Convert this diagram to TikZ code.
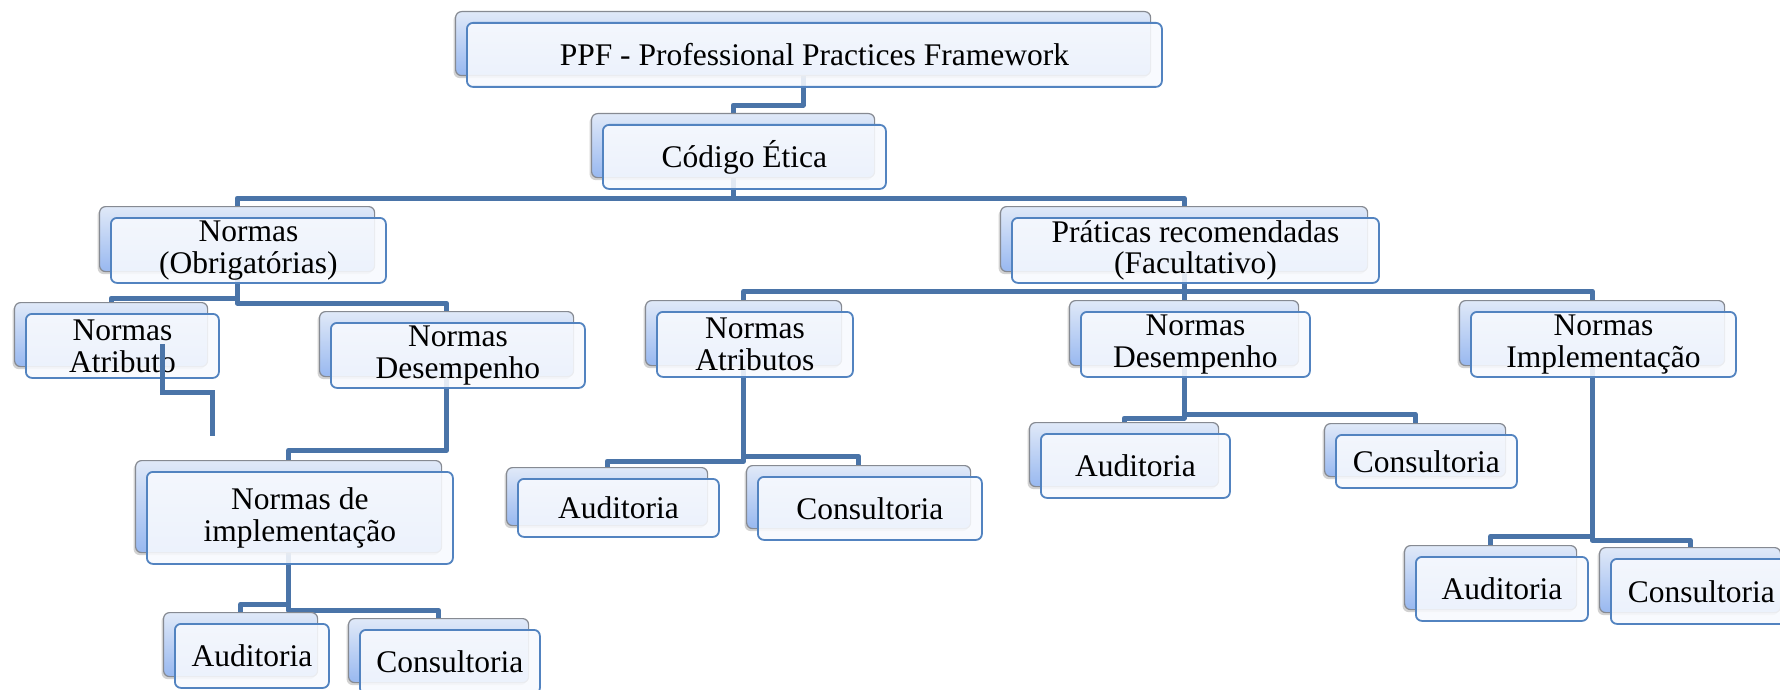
\documentclass[tikz,border=0pt]{standalone}
\usepackage{fontspec}
\setmainfont{Liberation Serif}
\usetikzlibrary{shadows}

\definecolor{linkblue}{HTML}{4A74A8}
\definecolor{frameblue}{HTML}{5283C0}
\definecolor{cardfill}{HTML}{F8FAFE}
\definecolor{backtop}{HTML}{E0E9F8}
\definecolor{backbot}{HTML}{98B8F0}
\definecolor{backedge}{HTML}{868A92}

\pgfdeclarelayer{paper}
\pgfdeclarelayer{links}
\pgfsetlayers{paper,links,main}

\tikzset{
  backcard/.style={draw=backedge, line width=1.2pt, rounded corners=6pt,
    top color=backtop, bottom color=backbot, inner sep=0pt, anchor=north west,
    drop shadow={shadow xshift=-2pt, shadow yshift=-2.5pt, opacity=0.35}},
  frontcard/.style={draw=frameblue, line width=1.8pt, rounded corners=6pt,
    fill=cardfill, fill opacity=0.88, text opacity=1, inner sep=0pt,
    anchor=north west, align=center, font=\fontsize{31.5}{32}\selectfont},
  link/.style={draw=linkblue, line width=5pt, line join=round}
}

% a card: shaded back plate plus a framed front plate carrying the text
% #1 name, #2 #3 top-left of the front plate, #4 width, #5 height, #6 text
\newcommand{\cardpair}[6]{%
  \node[backcard, minimum width=#4pt, minimum height=#5pt] (#1b) at (#2-11,#3-11) {};
  \node[frontcard, minimum width=#4pt, minimum height=#5pt] (#1) at (#2,#3) {#6};
}

\begin{document}
\begin{tikzpicture}[x=1pt,y=-1pt]
\useasboundingbox (0,0) rectangle (1780,690);
\begin{pgfonlayer}{paper}
  \fill[white] (0,0) rectangle (1780,690);
\end{pgfonlayer}

\cardpair{ppf}{466}{22}{695}{64}{PPF - Professional Practices Framework}
\cardpair{code}{602}{124}{283}{64}{Código Ética}
\cardpair{nob}{110}{217}{275}{65}{Normas\\(Obrigatórias)}
\cardpair{prat}{1011}{217}{367}{65}{Práticas recomendadas\\(Facultativo)}
\cardpair{natr}{25}{313}{193}{64}{Normas\\Atributo}
\cardpair{ndes}{330}{322}{254}{65}{Normas\\Desempenho}
\cardpair{nimpl}{146}{471}{306}{92}{Normas de\\implementação}
\cardpair{audA}{174}{623}{154}{64}{Auditoria}
\cardpair{conA}{359}{629}{180}{64}{Consultoria}
\cardpair{natrs}{656}{311}{196}{65}{Normas\\Atributos}
\cardpair{audB}{517}{478}{201}{58}{Auditoria}
\cardpair{conB}{757}{476}{224}{63}{Consultoria}
\cardpair{ndesr}{1080}{311}{229}{65}{Normas\\Desempenho}
\cardpair{audC}{1040}{433}{189}{64}{Auditoria}
\cardpair{conC}{1335}{434}{181}{53}{Consultoria}
\cardpair{nimpr}{1470}{311}{265}{65}{Normas\\Implementação}
\cardpair{audD}{1415}{556}{172}{64}{Auditoria}
\cardpair{conD}{1610}{558}{181}{65}{Consultoria}

\begin{pgfonlayer}{links}
  \draw[link] (ppfb.south) -- ++(0,29) -| (codeb.north);
  \draw[link] (codeb.south) -- ++(0,20) -| (nobb.north);
  \draw[link] (codeb.south) -- ++(0,20) -| (pratb.north);
  \draw[link] (nobb.south) -- ++(0,26) -| (natrb.north);
  \draw[link] (nobb.south) -- ++(0,31) -| (ndesb.north);
  \draw[link] (ndesb.south) -- ++(0,73) -| (nimplb.north);
  \draw[link] (nimplb.south) -- ++(0,51) -| (audAb.north);
  \draw[link] (nimplb.south) -- ++(0,57) -| (conAb.north);
  \draw[link] (pratb.south) -- ++(0,19) -| (natrsb.north);
  \draw[link] (pratb.south) -- (ndesrb.north);
  \draw[link] (pratb.south) -- ++(0,19) -| (nimprb.north);
  \draw[link] (natrsb.south) -- ++(0,95) -| (audBb.north);
  \draw[link] (natrsb.south) -- ++(0,90) -| (conBb.north);
  \draw[link] (ndesrb.south) -- ++(0,52) -| (audCb.north);
  \draw[link] (ndesrb.south) -- ++(0,48) -| (conCb.north);
  \draw[link] (nimprb.south) -- ++(0,170) -| (audDb.north);
  \draw[link] (nimprb.south) -- ++(0,174) -| (conDb.north);
\end{pgfonlayer}

% loose elbow line lying over the "Normas Atributo" card
\coordinate (loose1) at (162,344);
\coordinate (loose2) at (212,436);
\draw[link, line join=miter] (loose1) -- ++(0,48) -| (loose2);
\end{tikzpicture}
\end{document}
